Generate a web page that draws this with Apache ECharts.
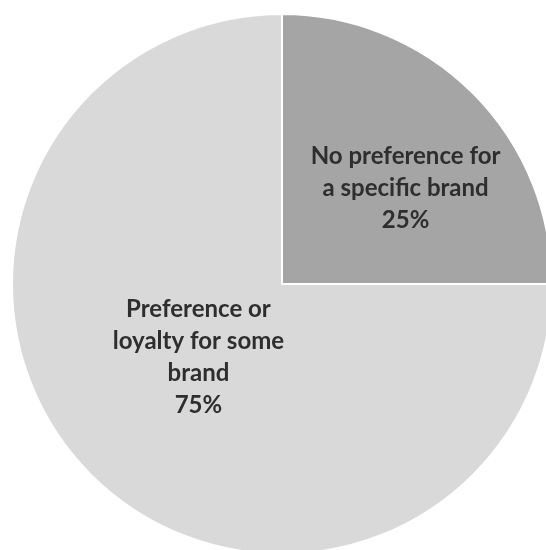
<!DOCTYPE html>
<html>
<head>
<meta charset="utf-8">
<script src="https://cdn.jsdelivr.net/npm/echarts@6/dist/echarts.min.js"></script>
<style>
  html, body { margin: 0; padding: 0; background: #ffffff; }
  #chart { width: 546px; height: 550px; }
</style>
</head>
<body>
<div id="chart"></div>
<script>
// Brand preference split
const categories = ['No preference for\na specific brand', 'Preference or\nloyalty for some\nbrand'];
const shares = [25, 75];
const sliceColors = ['#a5a5a5', '#d9d9d9'];
// Small nudges applied to each inside label
const labelNudges = [[26, 2], [14, -24]];

const chart = echarts.init(document.getElementById('chart'), null, { renderer: 'canvas' });

chart.setOption({
  animation: false,
  backgroundColor: '#ffffff',
  series: [{
    type: 'pie',
    center: [282, 284],
    radius: 270,
    startAngle: 90,
    clockwise: true,
    silent: true,
    data: categories.map((name, i) => ({
      name: name,
      value: shares[i],
      itemStyle: { color: sliceColors[i] }
    })),
    itemStyle: { borderColor: '#ffffff', borderWidth: 2 },
    label: {
      show: true,
      position: 'inside',
      formatter: p => p.name + '\n' + p.value + '%',
      color: '#2e2e2e',
      fontFamily: 'Lato',
      fontWeight: 'bold',
      fontSize: 24,
      lineHeight: 32,
      align: 'center'
    },
    labelLine: { show: false },
    labelLayout: p => ({ dx: labelNudges[p.dataIndex][0], dy: labelNudges[p.dataIndex][1] })
  }]
});
</script>
</body>
</html>
